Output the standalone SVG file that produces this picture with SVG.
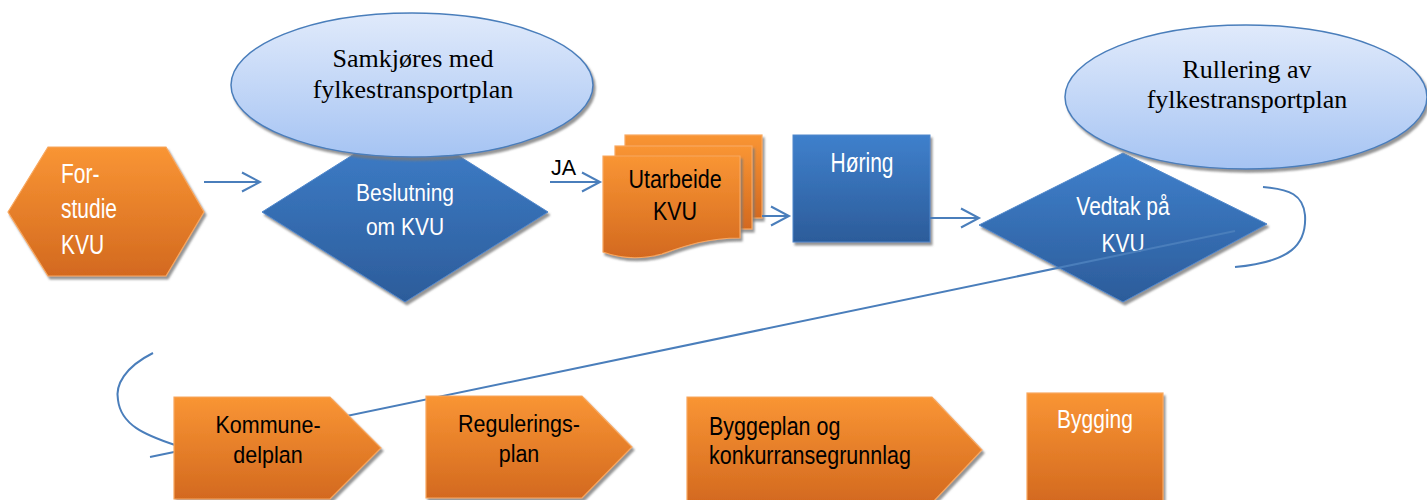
<svg xmlns="http://www.w3.org/2000/svg" width="1427" height="500" viewBox="0 0 1427 500">
<defs>
<linearGradient id="og" x1="0" y1="0" x2="0" y2="1"><stop offset="0" stop-color="#f99534"/><stop offset="1" stop-color="#d3691f"/></linearGradient>
<linearGradient id="bg" x1="0" y1="0" x2="0" y2="1"><stop offset="0" stop-color="#3f80cc"/><stop offset="1" stop-color="#2c5c9a"/></linearGradient>
<linearGradient id="eg" x1="0" y1="0" x2="0" y2="1"><stop offset="0" stop-color="#e0eafb"/><stop offset="1" stop-color="#a6c4f3"/></linearGradient>
<filter id="sh" x="-10%" y="-10%" width="130%" height="130%"><feDropShadow dx="2" dy="3" stdDeviation="0.8" flood-color="#7a7a7a" flood-opacity="0.8"/></filter>
<marker id="ah" viewBox="0 0 22 22" refX="19" refY="11" markerWidth="22" markerHeight="22" markerUnits="userSpaceOnUse" orient="auto"><path d="M1,1.5 L19,11 L1,20.5" fill="none" stroke="#4a7ebb" stroke-width="2"/></marker>
</defs>
<style>
.o{fill:url(#og);stroke:#f8a860;stroke-width:1.2;filter:url(#sh)}
.b{fill:url(#bg);stroke:#5088cc;stroke-width:1;filter:url(#sh)}
.e{fill:url(#eg);stroke:#4a7ebb;stroke-width:1.5;filter:url(#sh)}
.c{fill:none;stroke:#4a7ebb;stroke-width:2}
.w{fill:#fff;font-family:"Liberation Sans",Arial,sans-serif;font-size:21px}
.k{fill:#000;font-family:"Liberation Sans",Arial,sans-serif;font-size:21.5px}
.s{fill:#000;font-family:"Liberation Serif","Times New Roman",serif;font-size:26px;text-anchor:middle}
.m{text-anchor:middle}
</style>
<rect width="1427" height="500" fill="#fff"/>

<g id="forstudie">
<polygon class="o" points="8,212 48,147 166,147 204,212 166,276 48,276"/>
<text class="w" font-size="20" transform="translate(61,183) scale(1,1.3)">For-</text>
<text class="w" font-size="20" transform="translate(61,218) scale(1,1.3)">studie</text>
<text class="w" font-size="20" transform="translate(61,254) scale(1,1.3)">KVU</text>
</g>

<g id="beslutning">
<polygon class="b" points="405,122 548,212 405,302 262,212"/>
<text class="w m" font-size="22" transform="translate(405,201) scale(1,1.1)">Beslutning</text>
<text class="w m" font-size="22" transform="translate(405,235) scale(1,1.1)">om KVU</text>
</g>

<g id="samkjores">
<ellipse class="e" cx="412" cy="85" rx="181" ry="72"/>
<text class="s" x="413" y="67">Samkjøres med</text>
<text class="s" x="413" y="98">fylkestransportplan</text>
</g>

<g id="utarbeide">
<rect class="o" x="625" y="135" width="137" height="83"/>
<rect class="o" x="615" y="146" width="137" height="83"/>
<path class="o" d="M603,156 H740 V238 C705,238 682,247 662,254 C640,260 622,259 603,252 Z"/>
<text class="k m" transform="translate(675,188) scale(1,1.19)">Utarbeide</text>
<text class="k m" transform="translate(675,220) scale(1,1.19)">KVU</text>
</g>

<g id="horing">
<rect class="b" x="793" y="135" width="137" height="107"/>
<text class="w m" transform="translate(862,172) scale(1,1.3)">Høring</text>
</g>

<g id="vedtak">
<polygon class="b" points="1123,153 1267,224 1123,302 979,225"/>
<text class="w m" font-size="21.3" transform="translate(1123,215) scale(1,1.2)">Vedtak på</text>
<text class="w m" font-size="21.3" transform="translate(1123,252) scale(1,1.2)">KVU</text>
</g>

<g id="rullering">
<ellipse class="e" cx="1246" cy="97" rx="181" ry="72"/>
<text class="s" x="1247" y="78">Rullering av</text>
<text class="s" x="1247" y="108">fylkestransportplan</text>
</g>

<g id="connectors">
<path class="c" d="M204,182 H260" marker-end="url(#ah)"/>
<path class="c" d="M550,182 H600" marker-end="url(#ah)"/>
<text class="k" font-size="22" x="551" y="175">JA</text>
<path class="c" d="M762,216 H789" marker-end="url(#ah)"/>
<path class="c" d="M930,218 H979" marker-end="url(#ah)"/>
<path class="c" d="M1263,187 C1290,189 1303,195 1305,215 C1307,245 1290,262 1235,267"/>
<path class="c" d="M1235,231 L150,457"/>
<path class="c" d="M153,353 C125,367 115,385 118,400 C121,425 145,435 175,445"/>
</g>

<g id="kommunedelplan">
<polygon class="o" points="174,397 330,397 381,448 330,499 174,499"/>
<text class="k m" font-size="22" transform="translate(268,433) scale(1,1.12)">Kommune-</text>
<text class="k m" font-size="22" transform="translate(268,463) scale(1,1.12)">delplan</text>
</g>

<g id="reguleringsplan">
<polygon class="o" points="426,396 582,396 632,447 582,498 426,498"/>
<text class="k m" font-size="21.8" transform="translate(519,432) scale(1,1.15)">Regulerings-</text>
<text class="k m" font-size="21.8" transform="translate(519,462) scale(1,1.15)">plan</text>
</g>

<g id="byggeplan">
<polygon class="o" points="687,397 932,397 982,450 932,503 687,503"/>
<text class="k" transform="translate(709,435) scale(1,1.18)">Byggeplan og</text>
<text class="k" transform="translate(709,464) scale(1,1.18)">konkurransegrunnlag</text>
</g>

<g id="bygging">
<rect class="o" x="1027" y="393" width="136" height="110"/>
<text class="w m" font-size="19.5" transform="translate(1095,428) scale(1,1.27)">Bygging</text>
</g>
</svg>
